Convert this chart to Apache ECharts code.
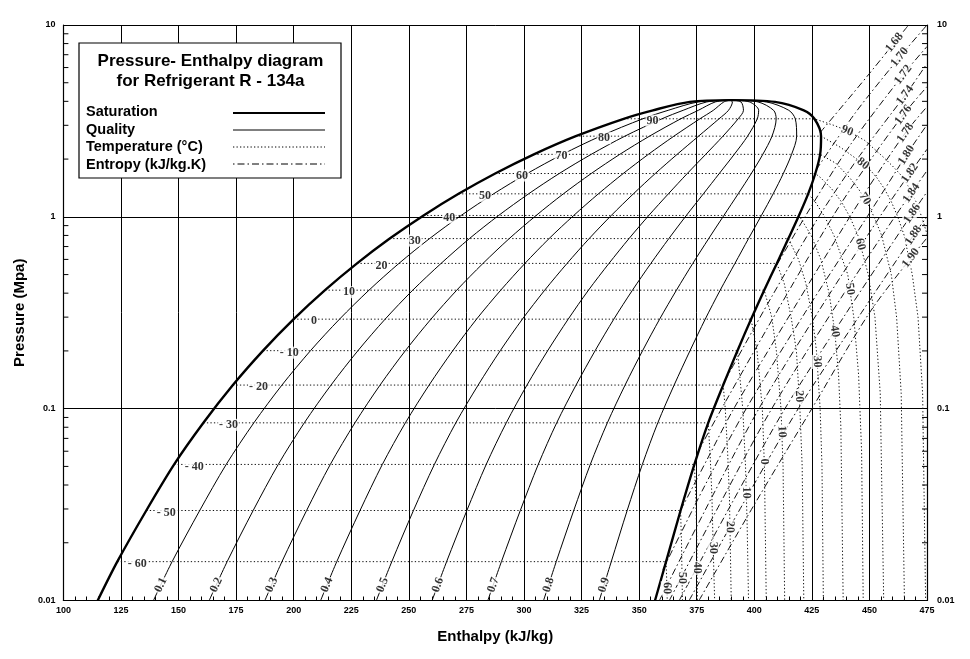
<!DOCTYPE html>
<html><head><meta charset="utf-8">
<script src="https://cdn.jsdelivr.net/npm/echarts@6/dist/echarts.min.js"></script>
<style>html,body{margin:0;padding:0;background:#fff}#c{width:970px;height:659px}</style>
</head><body><div id="c"></div>
<script>
// ---------- Saturation table (R-134a) ----------
const satP  = [0.01,0.01594,0.02945,0.05121,0.08436,0.13273,0.2006,0.2928,0.41461,0.57171,0.7702,1.0166,1.3179,1.6818,2.1168,2.6332,3.2442,3.5912,3.9724,4.0593];
const satHf = [114.9,123.4,136.0,148.1,160.8,173.6,186.7,200.0,213.6,227.5,241.7,256.4,271.6,287.5,304.3,322.5,343.3,356.0,372.0,389.6];
const satHg = [356.9,361.7,368.0,374.0,380.0,386.5,392.7,398.6,404.3,409.8,414.8,419.4,423.4,426.5,428.6,429.0,426.1,421.5,409.0,389.6];

// ---------- Quality lines (h at each saturation pressure) ----------
const qualityNames = ['0.1','0.2','0.3','0.4','0.5','0.6','0.7','0.8','0.9'];
const q01 = [139.1,147.2,159.2,170.7,182.7,194.9,207.3,219.9,232.7,245.7,259.0,272.7,286.8,301.4,316.7,333.2,351.6,362.6,375.7,389.6];
const q02 = [163.3,171.1,182.4,193.3,204.6,216.2,227.9,239.7,251.7,264.0,276.3,289.0,302.0,315.3,329.2,343.8,359.9,369.1,379.4,389.6];
const q03 = [187.5,194.9,205.6,215.9,226.6,237.5,248.5,259.6,270.8,282.2,293.6,305.3,317.1,329.2,341.6,354.5,368.1,375.7,383.1,389.6];
const q04 = [211.7,218.7,228.8,238.5,248.5,258.8,269.1,279.4,289.9,300.4,310.9,321.6,332.3,343.1,354.0,365.1,376.4,382.2,386.8,389.6];
const q05 = [235.9,242.6,252.0,261.1,270.4,280.1,289.7,299.3,309.0,318.7,328.3,337.9,347.5,357.0,366.5,375.8,384.7,388.8,390.5,389.6];
const q06 = [260.1,266.4,275.2,283.6,292.3,301.3,310.3,319.2,328.0,336.9,345.6,354.2,362.7,370.9,378.9,386.4,393.0,395.3,394.2,389.6];
const q07 = [284.3,290.2,298.4,306.2,314.2,322.6,330.9,339.0,347.1,355.1,362.9,370.5,377.9,384.8,391.3,397.1,401.3,401.9,397.9,389.6];
const q08 = [308.5,314.0,321.6,328.8,336.2,343.9,351.5,358.9,366.2,373.3,380.2,386.8,393.0,398.7,403.7,407.7,409.5,408.4,401.6,389.6];
const q09 = [332.7,337.9,344.8,351.4,358.1,365.2,372.1,378.7,385.2,391.6,397.5,403.1,408.2,412.6,416.2,418.4,417.8,415.0,405.3,389.6];
const qualityLabelP = 0.01205;

// ---------- Isotherms: superheated branch [h, p] (after saturated vapour point) ----------
const domeTempText  = ['- 60','- 50','- 40','- 30','- 20','- 10','0','10','20','30','40','50','60','70','80','90'];
const superTempText = ['60','50','40','30','20','10','0','10','20','30','40','50','60','70','80','90'];
const isoM60 = [[362.0,0.0125],[362.2,0.01]];
const isoM50 = [[368.4,0.02],[368.8,0.01]];
const isoM40 = [[374.6,0.035],[375.0,0.022],[375.3,0.01]];
const isoM30 = [[380.9,0.055],[381.6,0.035],[382.2,0.018],[382.8,0.01]];
const isoM20 = [[387.4,0.1],[388.4,0.06],[389.2,0.035],[390.0,0.01]];
const isoM10 = [[395.0,0.1],[396.2,0.05],[396.9,0.025],[397.5,0.01]];
const iso0   = [[401.2,0.2],[403.5,0.1],[404.4,0.05],[405.2,0.01]];
const iso10  = [[407.6,0.3],[409.6,0.2],[411.6,0.1],[412.5,0.05],[413.2,0.01]];
const iso20  = [[413.0,0.45],[416.0,0.3],[418.3,0.2],[419.8,0.1],[420.8,0.05],[421.5,0.01]];
const iso30  = [[419.2,0.6],[422.4,0.45],[425.2,0.3],[427.0,0.2],[428.6,0.1],[429.4,0.05],[430.0,0.01]];
const iso40  = [[424.7,0.8],[428.9,0.6],[432.5,0.4],[435.0,0.25],[436.6,0.15],[437.6,0.08],[438.6,0.01]];
const iso50  = [[426.4,1.2],[430.6,1.0],[434.6,0.8],[440.6,0.5],[443.2,0.3],[445.3,0.15],[446.6,0.06],[447.3,0.01]];
const iso60  = [[428.8,1.6],[433.6,1.4],[437.8,1.2],[441.5,1.0],[445.0,0.8],[449.5,0.5],[452.4,0.3],[454.7,0.12],[456.2,0.01]];
const iso70  = [[435.5,1.9],[441.4,1.6],[445.2,1.4],[448.8,1.2],[452.0,1.0],[455.3,0.8],[459.5,0.5],[461.8,0.3],[463.8,0.12],[465.2,0.01]];
const iso80  = [[437.5,2.3],[444.5,2.0],[449.5,1.8],[453.2,1.6],[456.5,1.4],[459.5,1.2],[462.3,1.0],[465.1,0.8],[468.6,0.5],[471.1,0.3],[473.1,0.12],[474.4,0.01]];
const iso90  = [[434.5,3.0],[440.7,2.8],[448.0,2.5],[457.0,2.0],[460.8,1.8],[464.7,1.6],[467.5,1.4],[470.2,1.2],[472.7,1.0],[475.2,0.8]];
const superLabelP = [0.0116,0.0131,0.0148,0.0188,0.0242,0.0365,0.053,0.076,0.116,0.176,0.253,0.42,0.72,1.24,1.89,2.81];

// ---------- Isentropes [h, p] ----------
const entropyNames = ['1.68','1.70','1.72','1.74','1.76','1.78','1.80','1.82','1.84','1.86','1.88','1.90'];
const s168 = [[428.6,2.75],[449,5.4],[467,10]];
const s170 = [[426.9,1.76],[444,3.5],[464,7.0],[475,10]];
const s172 = [[406.9,0.488],[422,1],[442,2.4],[465.4,5.65],[475,7.72]];
const s174 = [[387.1,0.139],[407,0.373],[428,1],[446,2.1],[466.3,4.44],[475,6.3]];
const s176 = [[375.5,0.0595],[385.8,0.1],[409.5,0.316],[434,1],[449,1.87],[465.4,3.49],[475,4.77]];
const s178 = [[368,0.0295],[379.5,0.0543],[391.1,0.1],[416,0.316],[441.5,1],[453.5,1.68],[466.3,2.81],[475,3.75]];
const s180 = [[360.3,0.0145],[378.2,0.039],[396.5,0.1],[422,0.316],[449,1],[466.7,2.16],[475,3.02]];
const s182 = [[358.8,0.01],[379.9,0.0316],[402,0.1],[427.5,0.316],[454.5,1],[467.6,1.69],[475,2.25]];
const s184 = [[363.1,0.01],[384.9,0.0316],[407.6,0.1],[433.5,0.316],[461,1],[475,1.74]];
const s186 = [[367.4,0.01],[389.9,0.0316],[413.3,0.1],[440,0.316],[467.6,1],[475,1.35]];
const s188 = [[371.7,0.01],[394.9,0.0316],[419.1,0.1],[446.5,0.316],[470,0.83],[475,1.0]];
const s190 = [[376,0.01],[400,0.0316],[425,0.1],[450,0.316],[468.9,0.63],[475,0.777]];
const entropyLabelP = [8.1,6.8,5.5,4.3,3.4,2.74,2.1,1.69,1.33,1.04,0.80,0.61];

// ---------- Axis labels ----------
const yTickLabels = ['0.01','0.1','1','10'];

const qualityArrays = [q01,q02,q03,q04,q05,q06,q07,q08,q09];
const superIso = [isoM60,isoM50,isoM40,isoM30,isoM20,isoM10,iso0,iso10,iso20,iso30,iso40,iso50,iso60,iso70,iso80,iso90];
const entropyArrays = [s168,s170,s172,s174,s176,s178,s180,s182,s184,s186,s188,s190];

const minorY = [];
for (let n=-2;n<=0;n++) for (let k=2;k<=9;k++) minorY.push(k*Math.pow(10,n));

const chart = echarts.init(document.getElementById('c'));
const FONT = 'Liberation Sans';
const SERIF = 'Liberation Serif';

const series = [];
// saturation dome
const domeData = satHf.map((h,i)=>[h,satP[i]]).concat(satHg.slice(0,-1).map((h,i)=>[h,satP[i]]).reverse());
series.push({type:'line',data:domeData,symbol:'none',smooth:0.3,silent:true,z:4,
  lineStyle:{color:'#000',width:2.4}});
// quality lines
const qualityLines = qualityArrays.map(arr=>arr.map((h,i)=>[h,satP[i]]));
qualityLines.forEach(d=>series.push({type:'line',data:d,symbol:'none',smooth:0.3,silent:true,z:3,
  lineStyle:{color:'#000',width:1}}));
// isotherms
const isoLines = superIso.map((arr,k)=>{const i=k+1;return [[satHf[i],satP[i]],[satHg[i],satP[i]]].concat(arr);});
isoLines.forEach(d=>series.push({type:'line',data:d,symbol:'none',silent:true,z:2,
  lineStyle:{color:'#111',width:1,type:[1.3,2.2]}}));
// isentropes
entropyArrays.forEach(d=>series.push({type:'line',data:d,symbol:'none',smooth:0.3,silent:true,z:2,
  lineStyle:{color:'#111',width:1,type:[7,3,1.5,3]}}));
// minor log ticks
series.push({type:'custom',silent:true,z:5,data:minorY.map(v=>[100,v]),
  renderItem:(p,api)=>{const c=api.coord([api.value(0),api.value(1)]);
    return {type:'line',shape:{x1:c[0],y1:c[1],x2:c[0]+5,y2:c[1]},style:{stroke:'#000',lineWidth:1}};}});
series.push({type:'custom',silent:true,z:5,data:minorY.map(v=>[475,v]),
  renderItem:(p,api)=>{const c=api.coord([api.value(0),api.value(1)]);
    return {type:'line',shape:{x1:c[0],y1:c[1],x2:c[0]-5,y2:c[1]},style:{stroke:'#000',lineWidth:1}};}});

const axisFont = {fontFamily:FONT,fontWeight:'bold',fontSize:9,color:'#000'};
const option = {
  animation:false,
  backgroundColor:'#fff',
  grid:{left:63.4,right:43,top:25,bottom:58.5},
  xAxis:{type:'value',min:100,max:475,interval:25,
    name:'Enthalpy (kJ/kg)',nameLocation:'middle',nameGap:29,
    nameTextStyle:{fontFamily:FONT,fontWeight:'bold',fontSize:15,color:'#000'},
    axisLine:{lineStyle:{color:'#000',width:1.2}},
    axisTick:{inside:true,length:6,lineStyle:{color:'#000'}},
    minorTick:{show:true,splitNumber:5,length:4,lineStyle:{color:'#000'}},
    axisLabel:Object.assign({margin:6},axisFont),
    splitLine:{show:true,lineStyle:{color:'#000',width:1}}},
  yAxis:[
    {type:'log',logBase:10,min:0.01,max:10,position:'left',
     name:'Pressure (Mpa)',nameLocation:'middle',nameGap:22,nameRotate:90,
     nameTextStyle:{fontFamily:FONT,fontWeight:'bold',fontSize:15,color:'#000'},
     axisLine:{show:true,lineStyle:{color:'#000',width:1.2}},
     axisTick:{show:true,inside:true,length:8,lineStyle:{color:'#000'}},
     axisLabel:Object.assign({margin:8,formatter:v=>yTickLabels[Math.round(Math.log10(v))+2]},axisFont),
     splitLine:{show:true,lineStyle:{color:'#000',width:1}}},
    {type:'log',logBase:10,min:0.01,max:10,position:'right',
     axisLine:{show:true,lineStyle:{color:'#000',width:1.2}},
     axisTick:{show:true,inside:true,length:8,lineStyle:{color:'#000'}},
     axisLabel:Object.assign({margin:10,formatter:v=>yTickLabels[Math.round(Math.log10(v))+2]},axisFont),
     splitLine:{show:false}}
  ],
  series:series,
  graphic:[
    {type:'rect',z:100,shape:{x:79,y:43,width:262,height:135},style:{fill:'#fff',stroke:'#000',lineWidth:1.2}},
    {type:'text',z:101,x:210.5,y:61,style:{text:'Pressure- Enthalpy diagram',font:'bold 17px "Liberation Sans"',fill:'#000',align:'center',verticalAlign:'middle',textAlign:'center',textVerticalAlign:'middle'}},
    {type:'text',z:101,x:210.5,y:81,style:{text:'for Refrigerant R - 134a',font:'bold 17px "Liberation Sans"',fill:'#000',align:'center',verticalAlign:'middle',textAlign:'center',textVerticalAlign:'middle'}},
    {type:'text',z:101,x:86,y:112,style:{text:'Saturation',font:'bold 14.5px "Liberation Sans"',fill:'#000',verticalAlign:'middle',textVerticalAlign:'middle'}},
    {type:'text',z:101,x:86,y:129.5,style:{text:'Quality',font:'bold 14.5px "Liberation Sans"',fill:'#000',verticalAlign:'middle',textVerticalAlign:'middle'}},
    {type:'text',z:101,x:86,y:147,style:{text:'Temperature (°C)',font:'bold 14.5px "Liberation Sans"',fill:'#000',verticalAlign:'middle',textVerticalAlign:'middle'}},
    {type:'text',z:101,x:86,y:164.5,style:{text:'Entropy (kJ/kg.K)',font:'bold 14.5px "Liberation Sans"',fill:'#000',verticalAlign:'middle',textVerticalAlign:'middle'}},
    {type:'line',z:101,shape:{x1:233,y1:113,x2:325,y2:113},style:{stroke:'#000',lineWidth:2.2}},
    {type:'line',z:101,shape:{x1:233,y1:130,x2:325,y2:130},style:{stroke:'#000',lineWidth:1}},
    {type:'line',z:101,shape:{x1:233,y1:147,x2:325,y2:147},style:{stroke:'#000',lineWidth:1,lineDash:[1.3,2.2]}},
    {type:'line',z:101,shape:{x1:233,y1:164,x2:325,y2:164},style:{stroke:'#000',lineWidth:1,lineDash:[1.5,3,7,3]}}
  ]
};
chart.setOption(option);

// ---------- labels placed on the curves ----------
function locate(pts,pT){
  for(let i=0;i<pts.length-1;i++){
    const a=pts[i],b=pts[i+1];
    const lo=Math.min(a[1],b[1]),hi=Math.max(a[1],b[1]);
    if(pT>=lo&&pT<=hi&&lo!==hi){
      const t=(Math.log(pT)-Math.log(a[1]))/(Math.log(b[1])-Math.log(a[1]));
      return {pt:[a[0]+t*(b[0]-a[0]),pT],a:a,b:b};
    }
  }
  const n=pts.length;return {pt:pts[n-1],a:pts[n-2],b:pts[n-1]};
}
function angleOf(a,b){
  const A=chart.convertToPixel({gridIndex:0},a),B=chart.convertToPixel({gridIndex:0},b);
  return Math.atan2(-(B[1]-A[1]),B[0]-A[0])*180/Math.PI;
}
const onCurve=[];
qualityLines.forEach((d,k)=>{const r=locate(d,qualityLabelP);onCurve.push({value:r.pt,label:{formatter:qualityNames[k],rotate:angleOf(r.a,r.b)}});});
isoLines.forEach((d,k)=>{const sup=d.slice(1);const r=locate(sup,superLabelP[k]);onCurve.push({value:r.pt,label:{formatter:superTempText[k],rotate:angleOf(r.a,r.b)}});});
entropyArrays.forEach((d,k)=>{const r=locate(d,entropyLabelP[k]);onCurve.push({value:r.pt,label:{formatter:entropyNames[k],rotate:angleOf(r.a,r.b)}});});

// dome labels sit a little further from the liquid line where that line is more slanted
const domeLabels=domeTempText.map((t,k)=>({value:[satHf[k+1],satP[k+1]],
  label:{formatter:t,distance:(k<3?9:14+(k-3)*0.6),offset:[0,2]}}));

series.push({type:'scatter',silent:true,z:6,symbolSize:1,itemStyle:{color:'rgba(0,0,0,0)'},data:onCurve,
  label:{show:true,position:'inside',fontFamily:SERIF,fontWeight:'bold',fontSize:12,color:'#000',backgroundColor:'#fff',padding:[0,1]}});
series.push({type:'scatter',silent:true,z:6,symbolSize:1,itemStyle:{color:'rgba(0,0,0,0)'},data:domeLabels,
  label:{show:true,position:'right',fontFamily:SERIF,fontWeight:'bold',fontSize:12,color:'#000',backgroundColor:'#fff',padding:[0,1]}});
option.series=series;
chart.setOption(option,true);
</script>
</body></html>
